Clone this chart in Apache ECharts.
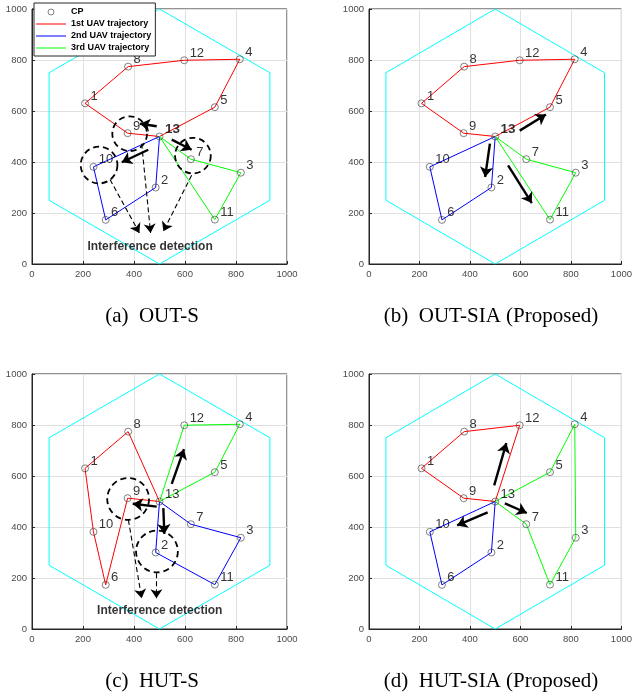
<!DOCTYPE html>
<html>
<head>
<meta charset="utf-8">
<script src="https://cdn.jsdelivr.net/npm/echarts@6/dist/echarts.min.js"></script>
<style>
  html, body { margin: 0; padding: 0; background: #fff; }
  #chart { width: 635px; height: 700px; }
</style>
</head>
<body>
<div id="chart"></div>
<script>
// Collection points (CP 1..13), in metres
const cpX = [208, 485, 819, 815, 717, 289, 623, 377, 375, 241, 717, 597, 500];
const cpY = [630, 300, 358, 803, 615, 173, 411, 774, 513, 381, 174, 799, 500];
const cpNames = ['1', '2', '3', '4', '5', '6', '7', '8', '9', '10', '11', '12', '13'];

// Cell boundary (hexagon)
const hexX = [500, 933, 933, 500, 67, 67, 500];
const hexY = [1000, 750, 250, 0, 250, 750, 1000];

// Axis ticks
const tickValues = [0, 200, 400, 600, 800, 1000];

// Visiting orders (CP numbers) of the three UAVs
const outRed = [13, 9, 1, 8, 12, 4, 5, 13];
const outBlue = [13, 10, 6, 2, 13];
const outGreen = [13, 7, 3, 11, 13];
const hutSRed = [13, 8, 1, 10, 6, 9, 13];
const hutSBlue = [13, 7, 3, 11, 2, 13];
const hutSGreen = [13, 12, 4, 5, 13];
const hutSiaRed = [13, 12, 8, 1, 9, 13];
const hutSiaBlue = [13, 10, 6, 2, 13];
const hutSiaGreen = [13, 5, 4, 3, 11, 7, 13];

// Interference zones: [x, y, radius]
const zonesA = [[383, 511, 68], [263, 388, 72], [631, 425, 70]];
const zonesC = [[377, 510, 82], [490, 304, 82]];

// Flight-direction arrows: [x0, y0, x1, y1]
const moveA = [[489, 540, 424, 550], [456, 448, 352, 399], [548, 488, 626, 448]];
const moveB = [[597, 523, 701, 586], [479, 472, 460, 341], [551, 387, 645, 239]];
const moveC = [[489, 480, 395, 491], [515, 474, 519, 373], [548, 569, 596, 705]];
const moveD = [[496, 563, 544, 729], [538, 493, 625, 455], [470, 457, 349, 406]];

// Interference detection arrows: [x0, y0, x1, y1]
const detectA = [[306, 331, 421, 122], [430, 472, 465, 122], [626, 348, 515, 128]];
const detectC = [[378, 428, 430, 121], [488, 219, 488, 121]];

// Position of the "Interference detection" note
const noteA = [463, 66];
const noteC = [501, 73];

const captions = ['(a)  OUT-S', '(b)  OUT-SIA (Proposed)', '(c)  HUT-S', '(d)  HUT-SIA (Proposed)'];

const SANS = '"Liberation Sans", Arial, sans-serif';
const SERIF = '"Liberation Serif", "Times New Roman", serif';

const panels = [
  { left: 32, top: 9, routes: [outRed, outBlue, outGreen], zones: zonesA, moves: moveA, detects: detectA, note: noteA, bold13: true },
  { left: 369, top: 9, routes: [outRed, outBlue, outGreen], zones: [], moves: moveB, detects: [], note: null, bold13: true },
  { left: 32, top: 374, routes: [hutSRed, hutSBlue, hutSGreen], zones: zonesC, moves: moveC, detects: detectC, note: noteC, bold13: false },
  { left: 369, top: 374, routes: [hutSiaRed, hutSiaBlue, hutSiaGreen], zones: [], moves: moveD, detects: [], note: null, bold13: false }
];
const captionPos = [[152, 316], [491, 316], [152, 681], [491, 681]];

const routeNames = ['1st UAV trajectory', '2nd UAV trajectory', '3rd UAV trajectory'];
const routeColors = ['#ff0000', '#0000ff', '#00ff00'];

const PLOT = 255;
const grids = [], xAxes = [], yAxes = [], series = [];

const markerStyle = { color: 'rgba(0,0,0,0)', borderColor: '#3a3a3a', borderWidth: 0.8 };

function axisCommon() {
  return {
    type: 'value', min: 0, max: 1000, interval: 200,
    axisLine: { show: true, onZero: false, lineStyle: { color: '#262626', width: 1 } },
    axisTick: { show: true, inside: true, length: 3, lineStyle: { color: '#262626' } },
    splitLine: { show: true, lineStyle: { color: '#e0e0e0', width: 1 } },
    axisLabel: {
      fontSize: 9.5, color: '#4a4a4a', fontFamily: SANS, margin: 5,
      formatter: v => String(v)
    }
  };
}

panels.forEach((p, i) => {
  grids.push({
    left: p.left, top: p.top, width: PLOT, height: PLOT,
    show: true, borderColor: '#262626', borderWidth: 1, backgroundColor: '#fff'
  });
  xAxes.push(Object.assign(axisCommon(), { gridIndex: i }));
  yAxes.push(Object.assign(axisCommon(), { gridIndex: i }));

  // cell boundary
  series.push({
    type: 'line', xAxisIndex: i, yAxisIndex: i, silent: true,
    data: hexX.map((x, k) => [x, hexY[k]]),
    symbol: 'none', lineStyle: { color: '#00ffff', width: 1 }, z: 1
  });

  // trajectories
  p.routes.forEach((route, r) => {
    series.push({
      name: routeNames[r], type: 'line', xAxisIndex: i, yAxisIndex: i,
      data: route.map(k => [cpX[k - 1], cpY[k - 1]]),
      symbol: 'none', showSymbol: false, color: routeColors[r],
      lineStyle: { color: routeColors[r], width: 1 }, z: 2
    });
  });

  // collection points with their numbers
  series.push({
    name: 'CP', type: 'scatter', xAxisIndex: i, yAxisIndex: i,
    symbol: 'circle', symbolSize: 7,
    itemStyle: markerStyle,
    data: cpNames.map((n, k) => {
      const item = { name: n, value: [cpX[k], cpY[k]] };
      if (n === '13' && p.bold13) item.label = { fontWeight: 'bold', fontSize: 13.5 };
      return item;
    }),
    label: {
      show: true, position: 'right', distance: 1.5, offset: [0, -7],
      formatter: '{b}', color: '#000', fontSize: 13, fontFamily: SANS
    },
    z: 3
  });

  // interference zones
  if (p.zones.length) {
    series.push({
      type: 'custom', xAxisIndex: i, yAxisIndex: i, silent: true,
      data: p.zones,
      renderItem: (params, api) => {
        const c = api.coord([api.value(0), api.value(1)]);
        const r = api.size([api.value(2), 0])[0];
        return {
          type: 'circle', shape: { cx: c[0], cy: c[1], r: r },
          style: { fill: null, stroke: '#000', lineWidth: 1.8, lineDash: [6, 4] }
        };
      },
      z: 4
    });
  }

  // flight direction arrows
  series.push({
    type: 'lines', coordinateSystem: 'cartesian2d', xAxisIndex: i, yAxisIndex: i, silent: true,
    symbol: ['none', 'arrow'], symbolSize: 10,
    lineStyle: { color: '#000', width: 2.4, opacity: 1, curveness: 0 },
    data: p.moves.map(a => ({ coords: [[a[0], a[1]], [a[2], a[3]]] })),
    z: 5
  });

  // interference detection arrows and note
  if (p.detects.length) {
    series.push({
      type: 'lines', coordinateSystem: 'cartesian2d', xAxisIndex: i, yAxisIndex: i, silent: true,
      symbol: ['none', 'arrow'], symbolSize: 9,
      lineStyle: { color: '#000', width: 1.1, type: [5, 3], opacity: 1, curveness: 0 },
      data: p.detects.map(a => ({ coords: [[a[0], a[1]], [a[2], a[3]]] })),
      z: 5
    });
  }
  if (p.note) {
    series.push({
      type: 'scatter', xAxisIndex: i, yAxisIndex: i, silent: true,
      symbolSize: 0, data: [p.note],
      label: {
        show: true, position: 'inside', formatter: 'Interference detection',
        color: '#000', fontSize: 12, fontWeight: 'bold', fontFamily: SANS
      },
      z: 5
    });
  }
});

// thin horizontal bar used as the line sample in the legend
const lineIcon = 'path://M0,0 L30,0 L30,1 L0,1 Z';

const chart = echarts.init(document.getElementById('chart'), null, { renderer: 'canvas' });
chart.setOption({
  animation: false,
  backgroundColor: '#fff',
  grid: grids,
  xAxis: xAxes,
  yAxis: yAxes,
  legend: {
    orient: 'vertical', left: 34, top: 3,
    padding: [4, 4, 3, 2],
    itemGap: 2, itemWidth: 30, itemHeight: 6,
    backgroundColor: '#fff', borderColor: '#262626', borderWidth: 1,
    selectedMode: false,
    textStyle: { fontSize: 9, fontWeight: 'bold', color: '#000', fontFamily: SANS, lineHeight: 10 },
    data: [
      { name: 'CP', icon: 'circle', itemStyle: markerStyle },
      { name: routeNames[0], icon: lineIcon, itemStyle: { color: routeColors[0], borderWidth: 0 } },
      { name: routeNames[1], icon: lineIcon, itemStyle: { color: routeColors[1], borderWidth: 0 } },
      { name: routeNames[2], icon: lineIcon, itemStyle: { color: routeColors[2], borderWidth: 0 } }
    ],
    z: 10
  },
  graphic: captions.map((t, i) => ({
    type: 'text', x: captionPos[i][0], y: captionPos[i][1],
    style: { text: t, fill: '#000', font: '21px ' + SERIF, align: 'center', verticalAlign: 'middle' }
  })),
  series: series
});
</script>
</body>
</html>
